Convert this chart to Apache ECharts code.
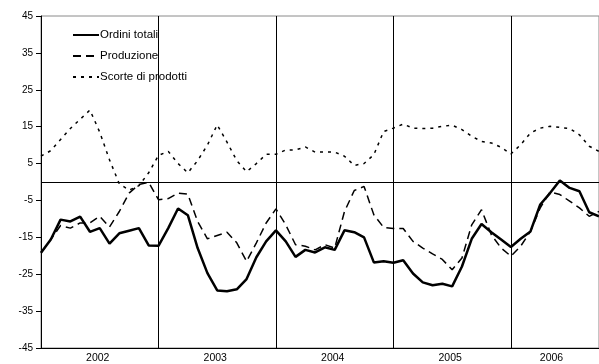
<!DOCTYPE html>
<html>
<head>
<meta charset="utf-8">
<script src="https://cdn.jsdelivr.net/npm/echarts@6/dist/echarts.min.js"></script>
<style>
  html, body { margin: 0; padding: 0; background: #fff; }
  #chart { width: 599px; height: 364px; }
</style>
</head>
<body>
<div id="chart"></div>
<script>
// monthly values, Jan 2002 - Oct 2006
var years = ['2002', '2003', '2004', '2005', '2006'];

var ordini = [
    -19.2, -15.6, -10.2, -10.7, -9.4, -13.5, -12.5, -16.7, -13.9, -13.2, -12.5, -17.2,
    -17.3, -12.5, -7.2, -9.0, -17.9, -24.7, -29.4, -29.6, -29.1, -26.3, -20.4, -16.1,
    -13.1, -16.1, -20.3, -18.4, -19.1, -17.7, -18.4, -13.1, -13.6, -15.0, -21.8, -21.5,
    -21.9, -21.2, -24.8, -27.2, -28.0, -27.6, -28.3, -22.9, -15.4, -11.4, -13.6, -15.6,
    -17.6, -15.4, -13.4, -6.1, -3.0, 0.4, -1.6, -2.5, -8.2, -9.3
];

var produzione = [
    -19.2, -15.6, -11.8, -12.5, -11.1, -11.1, -9.3, -12.2, -8.0, -3.0, -0.7, -0.1,
    -4.8, -4.5, -3.0, -3.3, -10.7, -15.4, -14.5, -13.6, -16.5, -21.5, -16.5, -11.1,
    -7.3, -11.6, -17.0, -17.4, -18.4, -17.0, -17.9, -8.0, -2.3, -1.2, -8.9, -12.3,
    -12.6, -12.6, -16.1, -17.9, -19.5, -21.0, -23.8, -20.6, -11.6, -7.5, -14.3, -17.9,
    -20.1, -17.4, -13.4, -7.0, -2.7, -3.4, -5.2, -7.0, -9.3, -8.0
];

var scorte = [
    7.0, 8.5, 11.5, 14.5, 17.0, 19.5, 13.5, 6.0, -0.5, -2.2, -1.0, 2.5,
    7.2, 8.3, 5.0, 2.5, 5.8, 10.0, 15.5, 10.8, 5.8, 2.8, 5.0, 7.5,
    7.5, 8.7, 8.7, 9.5, 8.1, 8.1, 8.1, 7.0, 4.5, 5.0, 7.4, 13.7,
    14.6, 15.7, 14.6, 14.5, 14.6, 15.1, 15.4, 14.2, 12.4, 11.0, 10.6, 9.4,
    7.6, 10.1, 13.3, 14.6, 15.1, 14.8, 14.5, 12.8, 9.7, 8.3
];

function pairs(arr) {
    return arr.map(function (v, i) { return [i, v]; });
}

var lastIdx = ordini.length - 1;
// label in the middle of each year's visible span
var yearCenters = years.map(function (y, k) {
    var start = k * 12;
    var end = Math.min(start + 12, lastIdx - 0.3);
    return (start + end) / 2 - 0.2;
});

var chart = echarts.init(document.getElementById('chart'));

var option = {
    animation: false,
    textStyle: { fontFamily: 'Liberation Sans, Arial, sans-serif' },
    grid: {
        left: 41, top: 16, bottom: 16, right: -3,
        show: true, borderColor: '#8a8a8a', borderWidth: 1
    },
    legend: {
        orient: 'vertical',
        left: 67, top: 24,
        itemWidth: 26, itemHeight: 14, itemGap: 9,
        itemStyle: { opacity: 0 },
        textStyle: { fontSize: 11.5, color: '#000', padding: [0, 0, 0, -4] },
        data: ['Ordini totali', 'Produzione', 'Scorte di prodotti']
    },
    xAxis: {
        type: 'value',
        min: 0, max: lastIdx,
        interval: 12,
        axisLine: { onZero: false, lineStyle: { color: '#000', width: 1 } },
        axisTick: { show: false },
        splitLine: { show: true, lineStyle: { color: '#000', width: 1 } },
        axisLabel: {
            customValues: yearCenters,
            color: '#000', fontSize: 10.5, margin: 5,
            formatter: function (v) { return years[Math.floor(v / 12)]; }
        }
    },
    yAxis: {
        type: 'value',
        min: -45, max: 45, interval: 10,
        axisLine: { show: true, lineStyle: { color: '#000', width: 1 } },
        axisTick: { show: true, length: 5, lineStyle: { color: '#000' } },
        splitLine: { show: false },
        axisLabel: { color: '#000', fontSize: 10, margin: 8 }
    },
    series: [
        {
            name: 'Ordini totali',
            type: 'line',
            symbol: 'none',
            data: pairs(ordini),
            lineStyle: { color: '#000', width: 2.5 },
            itemStyle: { color: '#000' },
            z: 5,
            markLine: {
                silent: true,
                symbol: 'none',
                label: { show: false },
                lineStyle: { color: '#000', width: 1, type: 'solid' },
                data: [{ yAxis: 0 }]
            }
        },
        {
            name: 'Produzione',
            type: 'line',
            symbol: 'none',
            data: pairs(produzione),
            lineStyle: { color: '#000', width: 1.5, type: [8, 5] },
            itemStyle: { color: '#000' },
            z: 4
        },
        {
            name: 'Scorte di prodotti',
            type: 'line',
            symbol: 'none',
            data: pairs(scorte),
            lineStyle: { color: '#000', width: 1.5, type: [3, 5] },
            itemStyle: { color: '#000' },
            z: 3
        }
    ]
};

chart.setOption(option);
window.addEventListener('resize', function () {
    chart.resize();
});
</script>
</body>
</html>
